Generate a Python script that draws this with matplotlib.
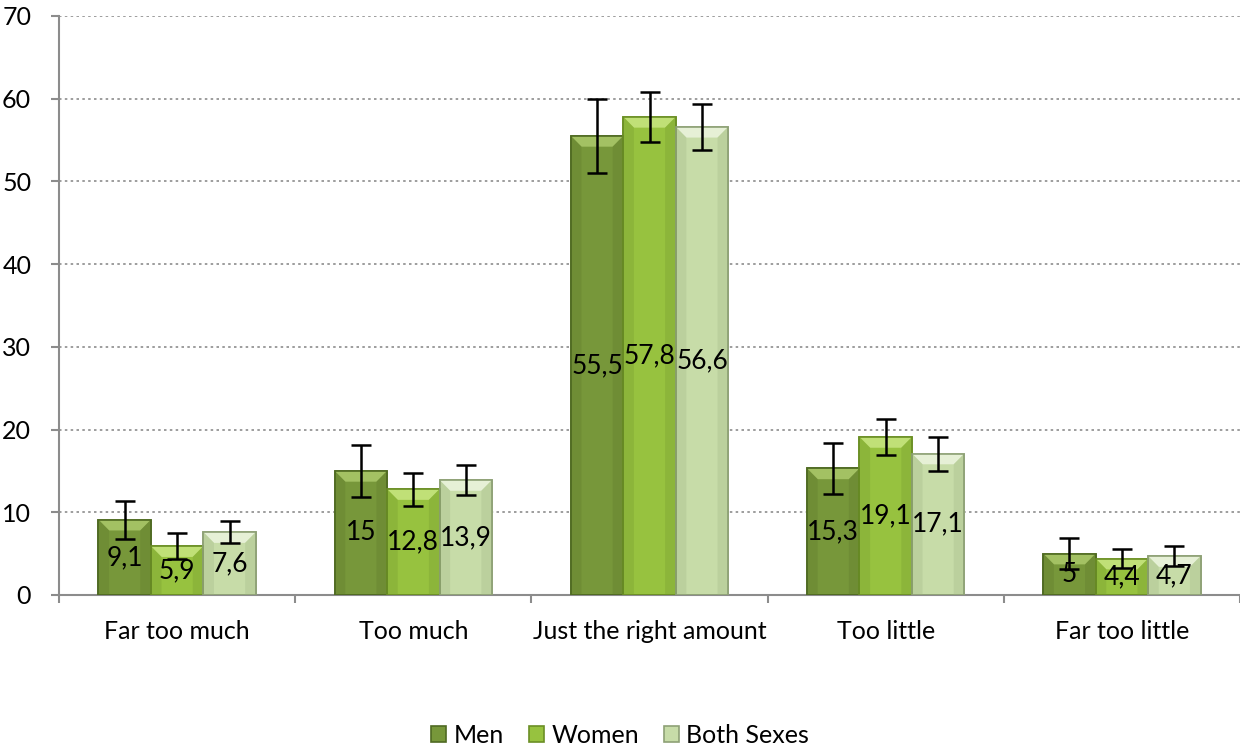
import numpy as np
import matplotlib
matplotlib.use("Agg")
import matplotlib.pyplot as plt
from matplotlib.patches import Polygon

categories = ["Far too much", "Too much", "Just the right amount", "Too little", "Far too little"]
series = ["Men", "Women", "Both Sexes"]
men = [9.1, 15, 55.5, 15.3, 5]
women = [5.9, 12.8, 57.8, 19.1, 4.4]
both = [7.6, 13.9, 56.6, 17.1, 4.7]
men_err = [2.3, 3.15, 4.45, 3.1, 1.9]
women_err = [1.6, 2.0, 3.0, 2.2, 1.15]
both_err = [1.35, 1.8, 2.75, 2.05, 1.2]

colors = ["#77973a", "#97c23f", "#c7dca8"]
tops = ["#a3c163", "#c0e077", "#e6f0d6"]
sides = ["#6a8733", "#86ad37", "#b3c997"]
edges = ["#4f6a22", "#6b8f25", "#8ea176"]

plt.rcParams['font.family'] = ['Lato', 'DejaVu Sans']

fig = plt.figure(figsize=(12.4, 7.47), dpi=100)
ax = fig.add_axes([0.0476, 0.2035, 0.9524, 0.7751])

x = np.arange(len(categories))
w = 0.222
offs = [-w, 0, w]
vals = [men, women, both]
errs = [men_err, women_err, both_err]

bx = 0.045   # bevel size in x (data units)
by = 1.3     # bevel size in y (data units)

handles = []
for i in range(3):
    b = ax.bar(x + offs[i], vals[i], w, color=colors[i], edgecolor=edges[i], linewidth=1.2,
               label=series[i], zorder=3)
    handles.append(b)
    for xc, v in zip(x + offs[i], vals[i]):
        l, r = xc - w / 2, xc + w / 2
        h = min(by, v / 2)
        ax.add_patch(Polygon([[l, v], [r, v], [r - bx, v - h], [l + bx, v - h]],
                             closed=True, facecolor=tops[i], edgecolor="none", zorder=3.5))
        ax.add_patch(Polygon([[l, 0], [l, v], [l + bx, v - h], [l + bx, 0]],
                             closed=True, facecolor=sides[i], edgecolor="none", zorder=3.5, alpha=0.6))
        ax.add_patch(Polygon([[r, 0], [r, v], [r - bx, v - h], [r - bx, 0]],
                             closed=True, facecolor=sides[i], edgecolor="none", zorder=3.5, alpha=0.6))
        ax.bar(xc, v, w, color="none", edgecolor=edges[i], linewidth=1.2, zorder=4)
    ax.errorbar(x + offs[i], vals[i], yerr=errs[i], fmt="none", ecolor="black",
                elinewidth=1.8, capsize=7, capthick=1.8, zorder=5)
    for xi, v in zip(x + offs[i], vals[i]):
        lab = ("%g" % v).replace(".", ",")
        ax.text(xi, v / 2, lab, ha="center", va="center", fontsize=19, zorder=6)

ax.set_xlim(-0.5, 4.5)
ax.set_ylim(0, 70)
ax.set_yticks(range(0, 71, 10))
ax.tick_params(axis="y", labelsize=18, length=6, color="#8c8c8c", width=1.5, pad=14)
ax.yaxis.grid(True, linestyle=(0, (1.5, 2)), color="#8c8c8c", linewidth=1.2, zorder=0)
ax.set_xticks(np.arange(-0.5, 5, 1))
ax.set_xticklabels([])
ax.set_xticks(x, minor=True)
ax.set_xticklabels(categories, minor=True, fontsize=18)
ax.tick_params(axis="x", which="major", length=6, color="#8c8c8c", width=1.5)
ax.tick_params(axis="x", which="minor", length=0, pad=18)
for s in ["top", "right"]:
    ax.spines[s].set_visible(False)
for s in ["left", "bottom"]:
    ax.spines[s].set_color("#8c8c8c")
    ax.spines[s].set_linewidth(1.5)

fig.legend(handles=handles, labels=series, loc="center", bbox_to_anchor=(0.5, 0.016),
           ncol=3, frameon=False, fontsize=18, handlelength=0.6, handleheight=0.6,
           handletextpad=0.3, columnspacing=1.0)

fig.savefig("out.png", dpi=100)
